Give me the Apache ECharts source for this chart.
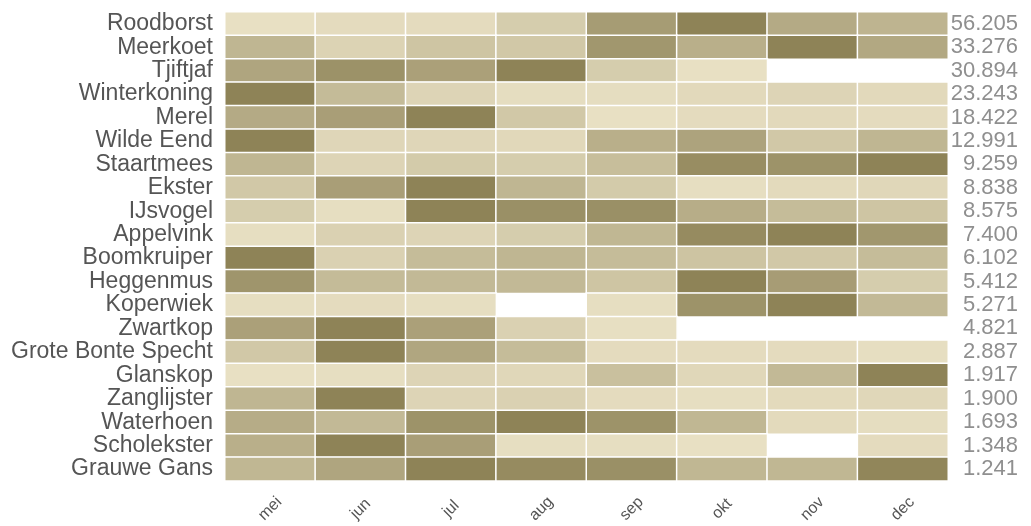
<!DOCTYPE html>
<html>
<head>
<meta charset="utf-8">
<script src="https://cdn.jsdelivr.net/npm/echarts@6/dist/echarts.min.js"></script>
<style>html,body{margin:0;padding:0;background:#fff}#c{width:1031px;height:526px}</style>
</head>
<body>
<div id="c"></div>
<script>
const months = ['mei','jun','jul','aug','sep','okt','nov','dec'];
const species = ['Roodborst','Meerkoet','Tjiftjaf','Winterkoning','Merel','Wilde Eend','Staartmees','Ekster','IJsvogel','Appelvink','Boomkruiper','Heggenmus','Koperwiek','Zwartkop','Grote Bonte Specht','Glanskop','Zanglijster','Waterhoen','Scholekster','Grauwe Gans'];
const totals = ['56.205','33.276','30.894','23.243','18.422','12.991','9.259','8.838','8.575','7.400','6.102','5.412','5.271','4.821','2.887','1.917','1.900','1.693','1.348','1.241'];
// relative intensity per month (row maximum = 100), null = no data
const roodborst   = [5,10,10,25,75,100,60,50];
const meerkoet    = [48,18,33,30,80,55,100,62];
const tjiftjaf    = [65,85,70,100,25,5,null,null];
const winterkoning= [100,43,17,8,8,12,17,12];
const merel       = [60,72,100,30,5,10,12,10];
const wildeEend   = [100,15,15,13,55,67,30,48];
const staartmees  = [48,17,27,25,40,90,84,100];
const ekster      = [30,72,100,48,27,7,11,14];
const ijsvogel    = [25,7,100,87,87,57,42,33];
const appelvink   = [7,20,17,25,47,92,100,80];
const boomkruiper = [100,20,42,48,42,34,30,42];
const heggenmus   = [82,43,45,45,33,100,74,25];
const koperwiek   = [7,10,7,null,7,84,100,45];
const zwartkop    = [70,100,70,20,6,null,null,null];
const groteBonteSpecht = [30,100,64,42,10,10,10,7];
const glanskop    = [5,7,17,14,38,14,45,100];
const zanglijster = [48,100,17,20,10,7,11,14];
const waterhoen   = [58,45,84,100,84,47,11,8];
const scholekster = [55,100,72,7,7,5,null,10];
const grauweGans  = [47,65,100,92,87,47,47,97];

const rows = [roodborst,meerkoet,tjiftjaf,winterkoning,merel,wildeEend,staartmees,ekster,ijsvogel,appelvink,boomkruiper,heggenmus,koperwiek,zwartkop,groteBonteSpecht,glanskop,zanglijster,waterhoen,scholekster,grauweGans];
const data = [];
rows.forEach((r, yi) => r.forEach((v, xi) => { if (v !== null) data.push([xi, yi, v]); }));

const chart = echarts.init(document.getElementById('c'));
chart.setOption({
  animation: false,
  textStyle: { fontFamily: 'Liberation Sans, Arial, sans-serif' },
  grid: { left: 225, right: 83, top: 12, bottom: 44 },
  xAxis: {
    type: 'category', data: months,
    axisLine: { show: false }, axisTick: { show: false }, splitLine: { show: false },
    axisLabel: { interval: 0, rotate: 45, fontSize: 16, color: '#555', margin: 28, align: 'center', verticalAlign: 'middle' }
  },
  yAxis: [{
    type: 'category', data: species, inverse: true,
    axisLine: { show: false }, axisTick: { show: false }, splitLine: { show: false },
    axisLabel: { interval: 0, fontSize: 23, color: '#555', margin: 12, lineHeight: 22 }
  }, {
    type: 'category', data: totals, inverse: true, position: 'right',
    axisLine: { show: false }, axisTick: { show: false }, splitLine: { show: false },
    axisLabel: { interval: 0, fontSize: 22, color: '#8f8f8f', margin: 70, align: 'right', lineHeight: 22 }
  }],
  visualMap: {
    show: false, type: 'continuous', min: 0, max: 100, dimension: 2,
    inRange: { color: ['#ede5c9', '#8e8357'] }
  },
  series: [{
    type: 'heatmap', data: data,
    itemStyle: { borderColor: '#ffffff', borderWidth: 1.5 }
  }]
});
</script>
</body>
</html>
